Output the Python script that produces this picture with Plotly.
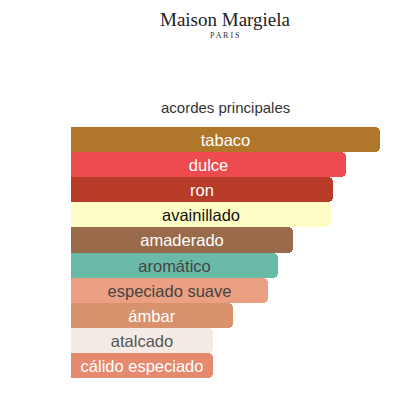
import plotly.graph_objects as go

# accords, strongest first
accords = ['tabaco', 'dulce', 'ron', 'avainillado', 'amaderado', 'aromático',
           'especiado suave', 'ámbar', 'atalcado', 'cálido especiado']
strength = [100, 88.9, 84.7, 84.0, 72.0, 67.0, 63.8, 52.4, 46.0, 45.9]
bar_colors = ['#B0772B', '#EE4B50', '#B73B27', '#FFFDC6', '#9A6B4B', '#6ABAA8',
              '#EBA083', '#D8936C', '#F4ECE4', '#E58A6F']
label_colors = ['#FFFFFF', '#FFFFFF', '#FFFFFF', '#111111', '#FFFFFF', '#444444',
                '#444444', '#FFFFFF', '#555555', '#FFFFFF']

# page body has an 8px margin, so figure pixels = page pixels - 8
L, R, T, B = 63, 28, 119, 30

fig = go.Figure(go.Bar(
    x=strength,
    y=accords,
    orientation='h',
    marker=dict(color=bar_colors, line=dict(width=0)),
    text=accords,
    textposition='inside',
    insidetextanchor='middle',
    textangle=0,
    textfont=dict(family='Liberation Sans, Arial, sans-serif', size=16.5, color=label_colors),
    hoverinfo='skip',
))

fig.update_layout(
    width=400,
    height=400,
    margin=dict(l=L, r=R, t=T, b=B),
    paper_bgcolor='white',
    plot_bgcolor='white',
    bargap=0,
    barcornerradius=5,
    showlegend=False,
    uniformtext=dict(minsize=16, mode='show'),
    xaxis=dict(range=[0, 100], visible=False, fixedrange=True),
    yaxis=dict(autorange='reversed', visible=False, fixedrange=True),
    annotations=[
        dict(text='Maison Margiela', x=217, y=0, yanchor='top', borderpad=0, height=21,
             font=dict(family='Liberation Serif, Times New Roman, serif', size=19, color='#222222')),
        dict(text='P A R I S', x=217, y=27, yanchor='middle', borderpad=0, height=9,
             font=dict(family='Liberation Serif, Times New Roman, serif', size=8, color='#333333')),
        dict(text='acordes principales', x=217, y=99, yanchor='middle',
             font=dict(family='Liberation Sans, Arial, sans-serif', size=15, color='#333333')),
    ],
)

# annotation positions given in figure pixels -> convert to paper coords
plot_h = 400 - T - B
plot_w = 400 - L - R
for ann in fig.layout.annotations:
    ann.xref = 'paper'
    ann.yref = 'paper'
    ann.showarrow = False
    ann.y = (400 - B - ann.y) / plot_h
    ann.x = (ann.x - L) / plot_w
    ann.xanchor = 'center'

fig.write_html("out.html")
